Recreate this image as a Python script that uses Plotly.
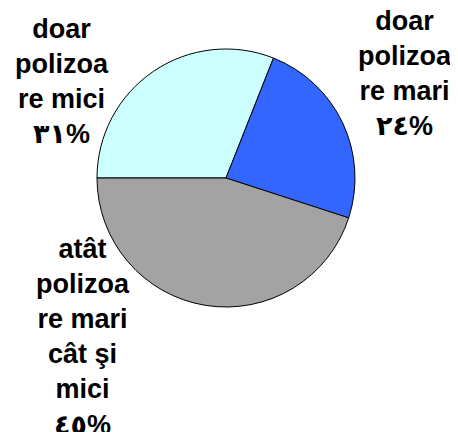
import plotly.graph_objects as go

labels = ["doar<br>polizoa<br>re mici", "doar<br>polizoa<br>re mari", "atât<br>polizoa<br>re mari<br>cât şi<br>mici"]
values = [31, 24, 45]
pct_text = ["٣١%", "٢٤%", "٤٥%"]
colors = ["#CCFFFF", "#3366FF", "#A3A3A3"]

W, H = 458, 432

fig = go.Figure()
fig.add_trace(go.Pie(
    labels=labels,
    values=values,
    sort=False,
    direction="clockwise",
    rotation=270,
    textinfo="none",
    hoverinfo="none",
    showlegend=False,
    marker=dict(colors=colors, line=dict(color="#000000", width=1)),
    domain=dict(x=[89 / W, 347 / W], y=[1 - 299 / H, 1 - 41 / H]),
))

label_pos = [(54, 73), (397, 65), (75, 329)]
for lab, pt, (px, py) in zip(labels, pct_text, label_pos):
    fig.add_annotation(
        x=px / W, y=1 - py / H, xref="paper", yref="paper",
        text="<b>" + lab + "<br>" + pt + "</b>", showarrow=False,
        xanchor="center", yanchor="middle", align="center",
        font=dict(family="Liberation Sans, Arial, DejaVu Sans", size=27, color="#000000"),
    )

fig.update_layout(
    width=W, height=H,
    margin=dict(l=0, r=0, t=0, b=0),
    paper_bgcolor="#FFFFFF",
    plot_bgcolor="#FFFFFF",
    font=dict(family="Liberation Sans, Arial", size=27, color="#000000"),
)

fig.write_html("out.html")
